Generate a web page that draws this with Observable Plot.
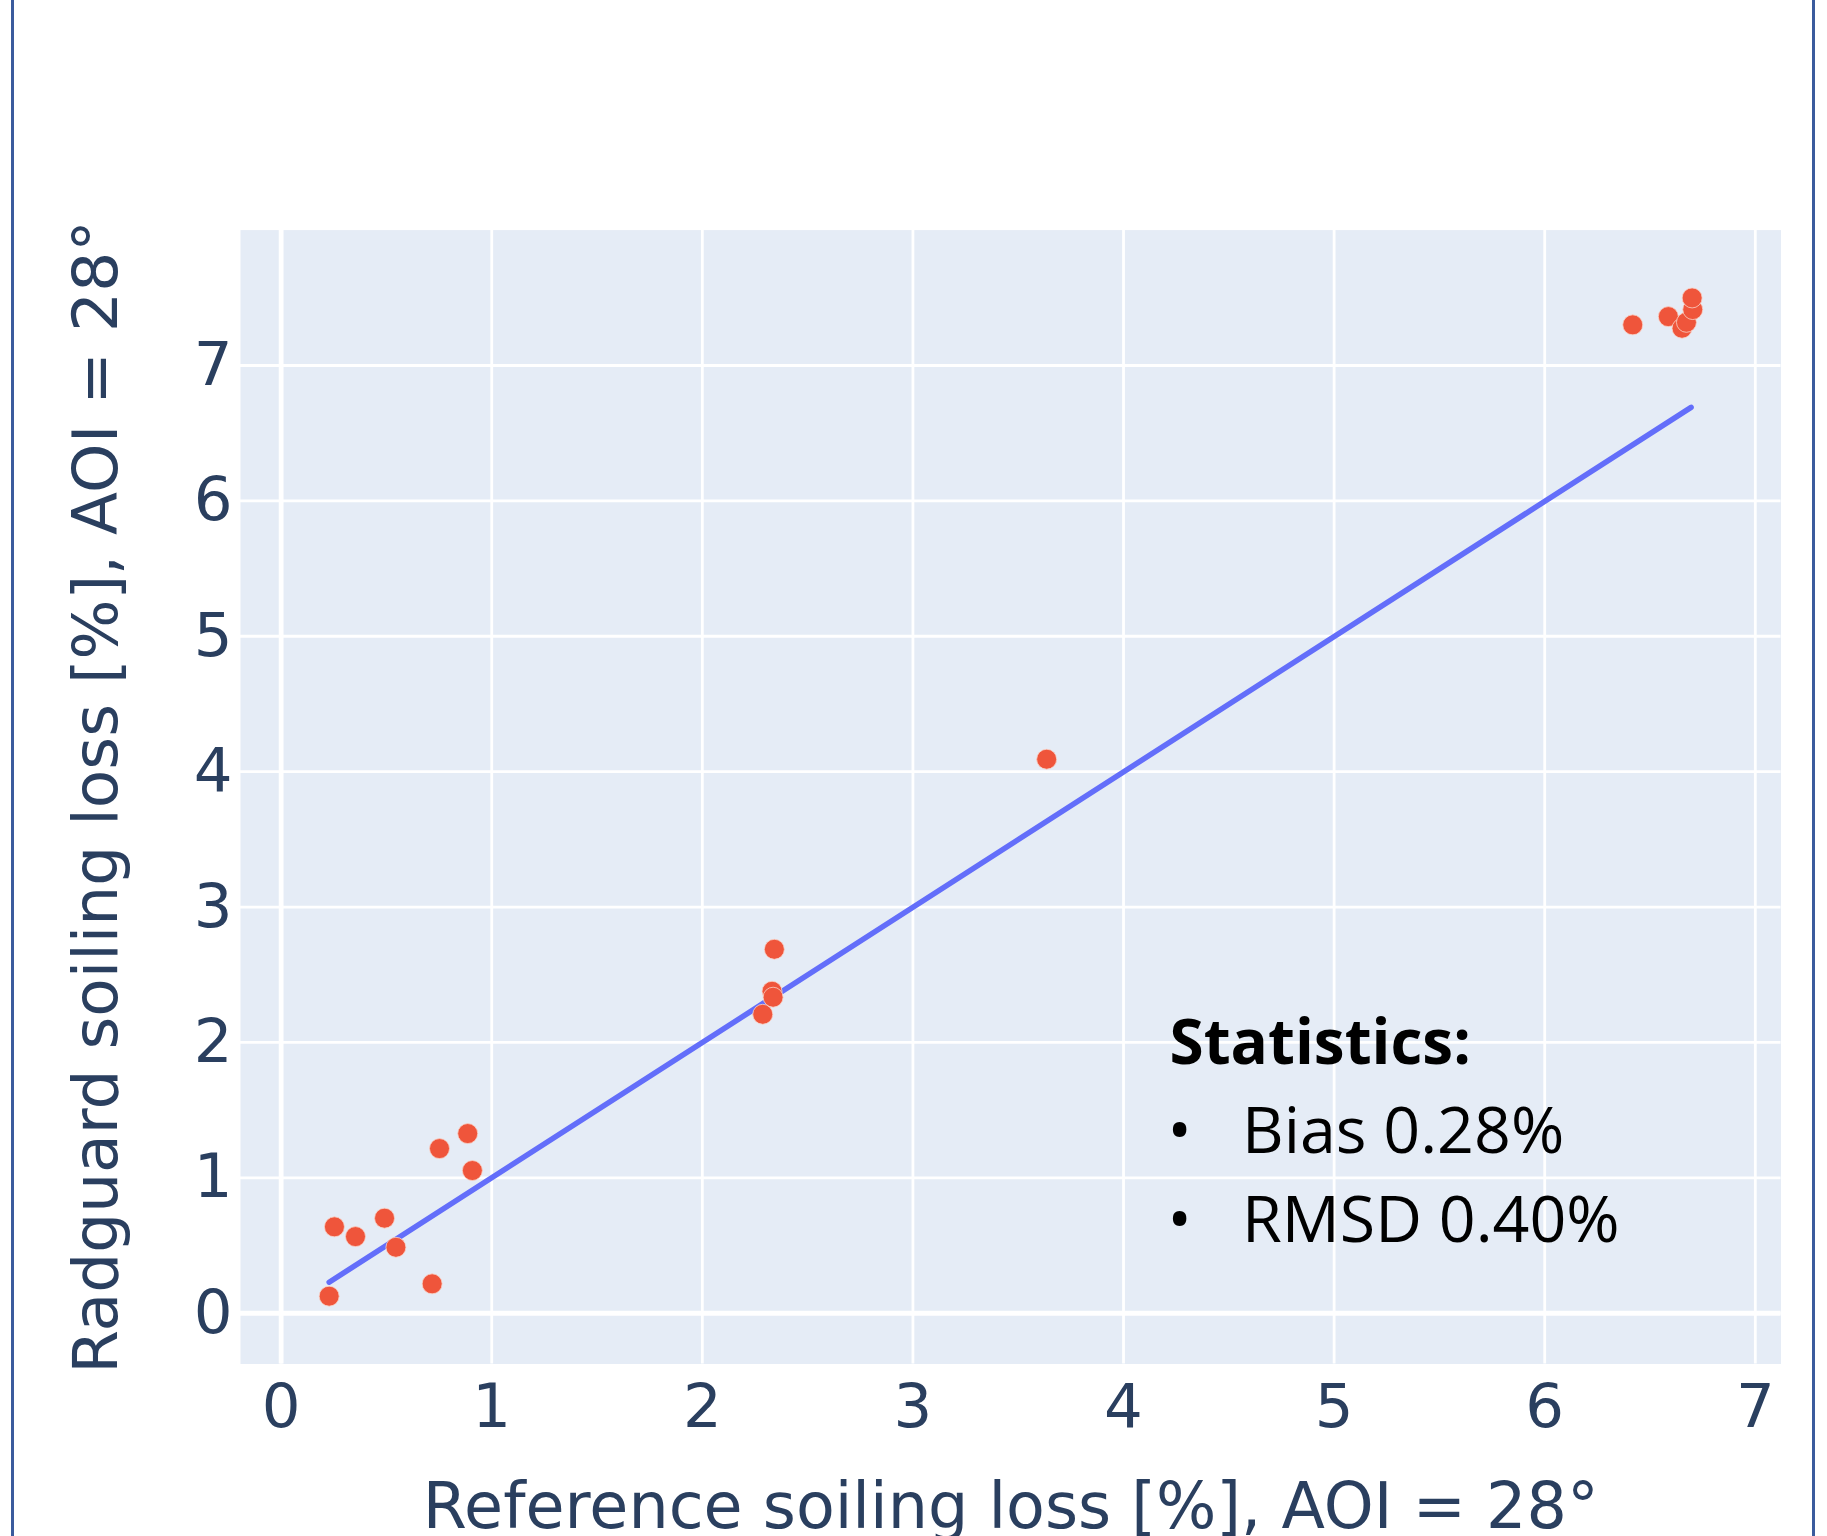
<!DOCTYPE html>
<html><head><meta charset="utf-8">
<script src="https://cdn.jsdelivr.net/npm/d3@7"></script>
<script src="https://cdn.jsdelivr.net/npm/@observablehq/plot@0.6"></script>
<style>
html,body{margin:0;padding:0;background:#fff;}
#wrap{position:relative;width:1827px;height:1536px;overflow:hidden;background:#fff;}
#wrap svg{display:block;position:absolute;left:0;top:0;}
.border{position:absolute;top:0;bottom:0;width:3px;background:#3b5b9d;z-index:2;}
</style></head><body>
<div id="wrap"><div class="border" style="left:11px"></div><div class="border" style="left:1812px"></div></div>
<script>
// Reference soiling loss [%] (x) vs Radguard soiling loss [%] (y)
const refLoss = [0.228, 0.253, 0.353, 0.491, 0.545, 0.717, 0.752, 0.886, 0.908,
                 2.287, 2.331, 2.336, 2.342, 3.635,
                 6.418, 6.587, 6.652, 6.673, 6.703, 6.700];
const radLoss = [0.126, 0.638, 0.566, 0.702, 0.487, 0.217, 1.216, 1.327, 1.054,
                 2.208, 2.378, 2.334, 2.688, 4.092,
                 7.300, 7.361, 7.275, 7.319, 7.413, 7.499];
// fitted / 1:1 line end points
const fitX = [0.228, 6.695];
const fitY = [0.229, 6.691];
const xTicks = [0, 1, 2, 3, 4, 5, 6, 7];
const yTicks = [0, 1, 2, 3, 4, 5, 6, 7];
const xTitle = "Reference soiling loss [%], AOI = 28°";
const yTitle = "Radguard soiling loss [%], AOI = 28°";
const statTitle = "Statistics:";
const statLines = ["Bias 0.28%", "RMSD 0.40%"];

const points = refLoss.map((x, i) => ({x, y: radLoss[i]}));
const fit = fitX.map((x, i) => ({x, y: fitY[i]}));
const bulletText = statLines.map(s => "•\u00A0\u00A0\u00A0" + s).join("\n");

const W = 1827, H = 1536;
const mL = 240, mR = 46.5, mT = 229.6, mB = 172.5;
const ink = "#2a3f5f";

const chart = Plot.plot({
  width: W, height: H,
  marginLeft: mL, marginRight: mR, marginTop: mT, marginBottom: mB,
  style: {fontFamily: "'DejaVu Sans'", fontSize: "60px", color: ink, background: "transparent"},
  x: {domain: [-0.193, 7.122], label: null},
  y: {domain: [-0.375, 8.0], label: null},
  marks: [
    Plot.frame({fill: "#e5ecf6", stroke: null}),
    Plot.gridX(xTicks, {stroke: "white", strokeOpacity: 1, strokeWidth: 2.8}),
    Plot.gridY(yTicks, {stroke: "white", strokeOpacity: 1, strokeWidth: 2.8}),
    Plot.ruleX([0], {stroke: "white", strokeWidth: 4.8}),
    Plot.ruleY([0], {stroke: "white", strokeWidth: 4.8}),
    Plot.axisX(xTicks, {tickSize: 0, tickPadding: 20, fontSize: 61, fill: ink, label: null, tickFormat: d => String(d)}),
    Plot.axisY(yTicks, {tickSize: 0, tickPadding: 8, fontSize: 61, fill: ink, label: null, tickFormat: d => String(d)}),
    Plot.line(fit, {x: "x", y: "y", stroke: "#636efa", strokeWidth: 5.5}),
    Plot.dot(points, {x: "x", y: "y", r: 10, fill: "#ef553b", stroke: "#f9d3c8", strokeWidth: 0.8}),
    Plot.text([xTitle], {frameAnchor: "bottom", dy: 163.5, lineAnchor: "bottom", textAnchor: "middle", text: d => d,
      fontSize: 63.5, fill: ink, fontFamily: "'DejaVu Sans'"}),
    Plot.text([yTitle], {frameAnchor: "left", dx: -123.5, rotate: -90, lineAnchor: "bottom", textAnchor: "middle", text: d => d,
      fontSize: 63, fill: ink, fontFamily: "'DejaVu Sans'"}),
    Plot.text([statTitle], {frameAnchor: "top-left", dx: 929, dy: 833.7, lineAnchor: "bottom", textAnchor: "start",
      text: d => d, fontSize: 62, fontWeight: "bold", fill: "black", fontFamily: "'Open Sans'"}),
    Plot.text([bulletText], {frameAnchor: "top-left", dx: 927, dy: 1012.1, lineAnchor: "bottom", textAnchor: "start",
      text: d => d, fontSize: 64.5, lineHeight: 89 / 64.5, fill: "black", fontFamily: "'Open Sans'"})
  ]
});
document.getElementById("wrap").appendChild(chart);
</script>
</body></html>
